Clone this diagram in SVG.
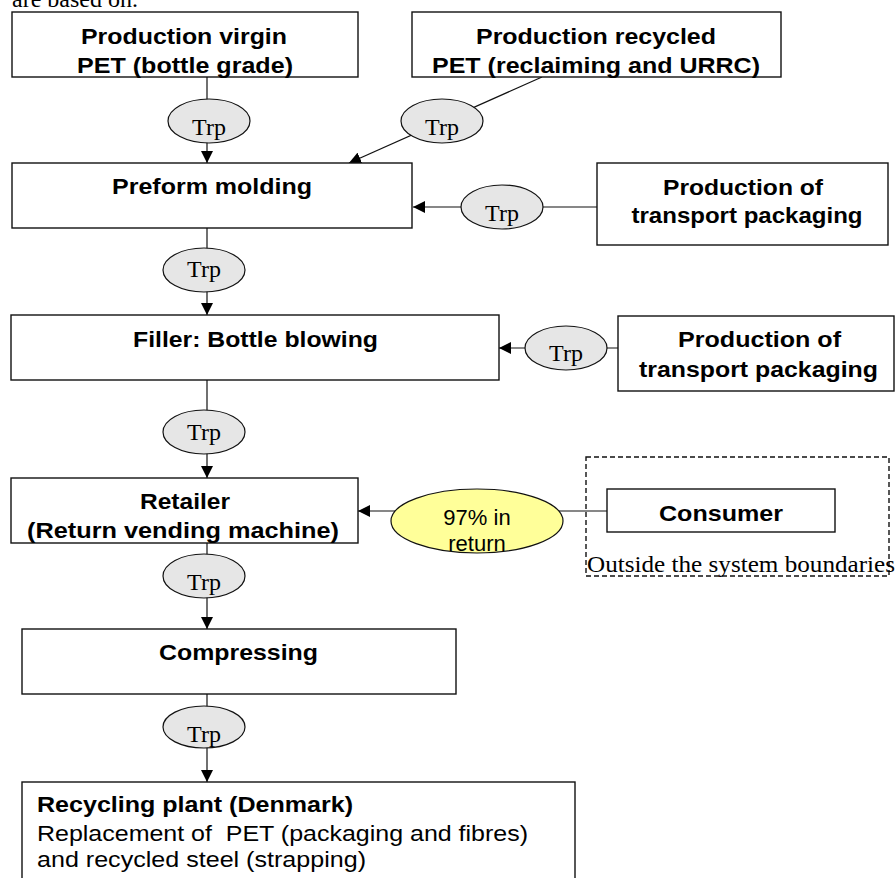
<svg xmlns="http://www.w3.org/2000/svg" width="896" height="878" viewBox="0 0 896 878">
<style>
  .box { fill: #ffffff; stroke: #111; stroke-width: 1.4; }
  .trp { fill: #e6e6e6; stroke: #111; stroke-width: 1.2; }
  .yel { fill: #ffff99; stroke: #111; stroke-width: 1.2; }
  .dash { fill: none; stroke: #111; stroke-width: 1.4; stroke-dasharray: 5 3; }
  .ln { fill: none; stroke: #111; stroke-width: 1.2; }
  .b { font-family: "Liberation Sans", Arial, sans-serif; font-weight: bold; font-size: 22px; fill: #000; }
  .r { font-family: "Liberation Sans", Arial, sans-serif; font-size: 22px; fill: #000; white-space: pre; }
  .s { font-family: "Liberation Serif", "Times New Roman", serif; font-size: 24px; fill: #000; }
  .c { text-anchor: middle; }
</style>
<defs>
  <marker id="ah" markerUnits="userSpaceOnUse" markerWidth="12" markerHeight="12" refX="12" refY="6" orient="auto">
    <path d="M0,0 L12,6 L0,12 Z" fill="#000"/>
  </marker>
</defs>
<rect x="0" y="0" width="896" height="878" fill="#ffffff"/>

<text class="s" x="12" y="7" font-size="23">are based on.</text>

<g id="connectors">
  <line class="ln" x1="207" y1="77" x2="207" y2="163" marker-end="url(#ah)"/>
  <line class="ln" x1="542" y1="77" x2="349" y2="163" marker-end="url(#ah)"/>
  <line class="ln" x1="597" y1="207" x2="413" y2="207" marker-end="url(#ah)"/>
  <line class="ln" x1="207" y1="228" x2="207" y2="315" marker-end="url(#ah)"/>
  <line class="ln" x1="618" y1="348" x2="499" y2="348" marker-end="url(#ah)"/>
  <line class="ln" x1="207" y1="380" x2="207" y2="478" marker-end="url(#ah)"/>
  <line class="ln" x1="607" y1="511" x2="358" y2="511" marker-end="url(#ah)"/>
  <line class="ln" x1="207" y1="543" x2="207" y2="629" marker-end="url(#ah)"/>
  <line class="ln" x1="207" y1="694" x2="207" y2="782" marker-end="url(#ah)"/>
</g>

<g id="virgin-pet">
  <rect class="box" x="12" y="12" width="346" height="65"/>
  <text class="b c" x="184" y="44" textLength="206" lengthAdjust="spacingAndGlyphs">Production virgin</text>
  <text class="b c" x="185" y="73" textLength="216" lengthAdjust="spacingAndGlyphs">PET (bottle grade)</text>
</g>

<g id="recycled-pet">
  <rect class="box" x="412" y="12" width="369" height="65"/>
  <text class="b c" x="596" y="44" textLength="240" lengthAdjust="spacingAndGlyphs">Production recycled</text>
  <text class="b c" x="596" y="73" textLength="328" lengthAdjust="spacingAndGlyphs">PET (reclaiming and URRC)</text>
</g>

<g id="trp1">
  <ellipse class="trp" cx="209" cy="121" rx="41" ry="22"/>
  <text class="s c" x="209" y="135">Trp</text>
</g>
<g id="trp2">
  <ellipse class="trp" cx="442" cy="121" rx="41" ry="22"/>
  <text class="s c" x="442" y="135">Trp</text>
</g>

<g id="preform">
  <rect class="box" x="12" y="163" width="400" height="65"/>
  <text class="b c" x="212" y="194" textLength="200" lengthAdjust="spacingAndGlyphs">Preform molding</text>
</g>

<g id="trp3">
  <ellipse class="trp" cx="502" cy="207" rx="41" ry="22"/>
  <text class="s c" x="502" y="221">Trp</text>
</g>

<g id="transport1">
  <rect class="box" x="597" y="163" width="291" height="82"/>
  <text class="b c" x="743" y="195" textLength="160" lengthAdjust="spacingAndGlyphs">Production of</text>
  <text class="b c" x="747" y="223" textLength="231" lengthAdjust="spacingAndGlyphs">transport packaging</text>
</g>

<g id="trp4">
  <ellipse class="trp" cx="204" cy="270" rx="41" ry="22"/>
  <text class="s c" x="204" y="277">Trp</text>
</g>

<g id="filler">
  <rect class="box" x="11" y="315" width="488" height="65"/>
  <text class="b c" x="255.5" y="347" textLength="245" lengthAdjust="spacingAndGlyphs">Filler: Bottle blowing</text>
</g>

<g id="trp5">
  <ellipse class="trp" cx="566" cy="348" rx="41" ry="22"/>
  <text class="s c" x="566" y="361">Trp</text>
</g>

<g id="transport2">
  <rect class="box" x="618" y="316" width="276" height="75"/>
  <text class="b c" x="759.5" y="347" textLength="163" lengthAdjust="spacingAndGlyphs">Production of</text>
  <text class="b c" x="758.5" y="377" textLength="239" lengthAdjust="spacingAndGlyphs">transport packaging</text>
</g>

<g id="trp6">
  <ellipse class="trp" cx="204" cy="432" rx="41" ry="22"/>
  <text class="s c" x="204" y="440">Trp</text>
</g>

<g id="retailer">
  <rect class="box" x="11" y="478" width="347" height="65"/>
  <text class="b c" x="185" y="509" textLength="90" lengthAdjust="spacingAndGlyphs">Retailer</text>
  <text class="b c" x="183" y="538" textLength="312" lengthAdjust="spacingAndGlyphs">(Return vending machine)</text>
</g>

<g id="return-rate">
  <ellipse class="yel" cx="477" cy="521" rx="86" ry="32"/>
  <text class="r c" x="477" y="525" font-size="21">97% in</text>
  <text class="r c" x="477" y="551" font-size="21">return</text>
</g>

<g id="system-boundary">
  <rect class="dash" x="586" y="457" width="303" height="119"/>
  <text class="s" x="587" y="572" textLength="308" lengthAdjust="spacingAndGlyphs">Outside the system boundaries</text>
</g>

<g id="consumer">
  <rect class="box" x="607" y="489" width="228" height="43"/>
  <text class="b c" x="721" y="521" textLength="124" lengthAdjust="spacingAndGlyphs">Consumer</text>
</g>

<g id="trp7">
  <ellipse class="trp" cx="204" cy="576" rx="41" ry="22"/>
  <text class="s c" x="204" y="590">Trp</text>
</g>

<g id="compressing">
  <rect class="box" x="22" y="629" width="434" height="65"/>
  <text class="b c" x="238.5" y="660" textLength="159" lengthAdjust="spacingAndGlyphs">Compressing</text>
</g>

<g id="trp8">
  <ellipse class="trp" cx="204" cy="727" rx="41" ry="21"/>
  <text class="s c" x="204" y="742">Trp</text>
</g>

<g id="recycling">
  <rect class="box" x="22" y="782" width="553" height="120"/>
  <text class="b" x="37" y="812" textLength="316" lengthAdjust="spacingAndGlyphs">Recycling plant (Denmark)</text>
  <text class="r" x="37" y="841" textLength="491" lengthAdjust="spacingAndGlyphs">Replacement of  PET (packaging and fibres)</text>
  <text class="r" x="37" y="867" textLength="329" lengthAdjust="spacingAndGlyphs">and recycled steel (strapping)</text>
</g>
</svg>
